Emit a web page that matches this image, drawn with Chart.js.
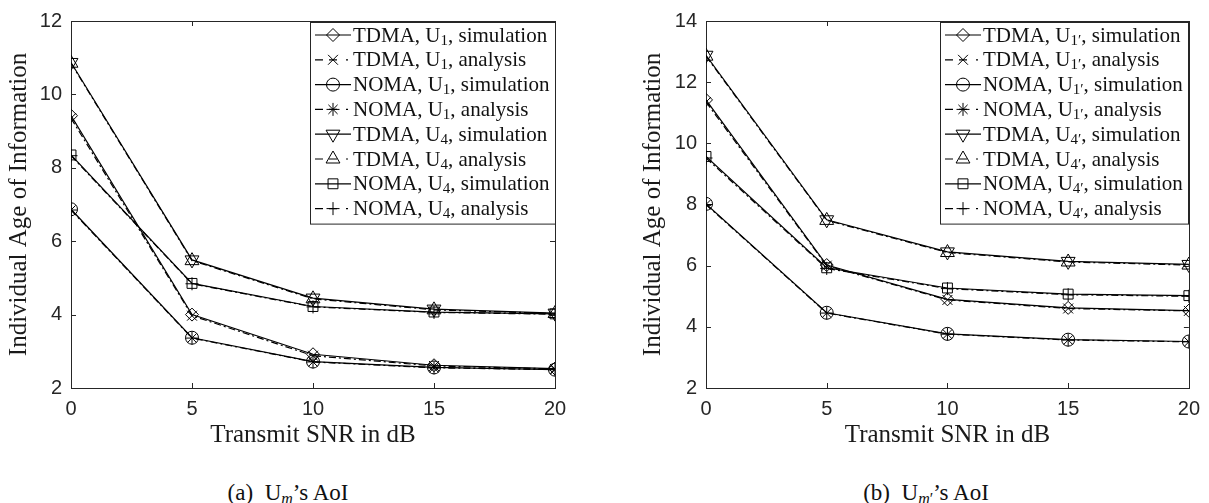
<!DOCTYPE html>
<html>
<head>
<meta charset="utf-8">
<script src="https://cdn.jsdelivr.net/npm/chart.js@4.4.1/dist/chart.umd.min.js"></script>
<style>
  body { margin: 0; background: #fff; width: 1209px; height: 503px; position: relative; overflow: hidden; }
  canvas { position: absolute; top: 0; }
  #chartA { left: 0; }
  #chartB { left: 604px; }
  .cap { position: absolute; top: 480px; font-family: "Liberation Serif", serif; font-size: 23px;
         color: #111; transform: translateX(-50%); white-space: nowrap; }
  .cap sub { font-size: 16px; vertical-align: -4px; line-height: 0; }
</style>
</head>
<body>
<canvas id="chartA" width="604" height="450"></canvas>
<canvas id="chartB" width="605" height="450"></canvas>
<div class="cap" style="left:288px">(a)&nbsp; U<sub><i>m</i></sub>’s AoI</div>
<div class="cap" style="left:926px">(b)&nbsp; U<sub><i>m</i>′</sub>’s AoI</div>
<script>
// x axis: transmit SNR (dB)
const snrDb = [0, 5, 10, 15, 20];
const xTickValues = [0, 5, 10, 15, 20];
const yTicksA = [2, 4, 6, 8, 10, 12];
const yTicksB = [2, 4, 6, 8, 10, 12, 14];

// (a) U_m's AoI
const tdmaU1Sim = [9.42, 4.00, 2.92, 2.62, 2.53];
const tdmaU1Ana = [9.35, 3.97, 2.88, 2.60, 2.52];
const nomaU1Sim = [6.87, 3.37, 2.72, 2.56, 2.50];
const nomaU1Ana = [6.85, 3.36, 2.71, 2.55, 2.50];
const tdmaU4Sim = [10.87, 5.49, 4.45, 4.15, 4.04];
const tdmaU4Ana = [10.85, 5.47, 4.43, 4.13, 4.03];
const nomaU4Sim = [8.35, 4.85, 4.22, 4.07, 4.02];
const nomaU4Ana = [8.33, 4.84, 4.21, 4.06, 4.01];

// (b) U_m''s AoI
const tdmaU1pSim = [11.42, 6.02, 4.90, 4.62, 4.53];
const tdmaU1pAna = [11.35, 6.00, 4.88, 4.60, 4.52];
const nomaU1pSim = [8.02, 4.46, 3.77, 3.58, 3.52];
const nomaU1pAna = [8.00, 4.45, 3.76, 3.57, 3.51];
const tdmaU4pSim = [12.88, 7.50, 6.45, 6.14, 6.04];
const tdmaU4pAna = [12.85, 7.48, 6.43, 6.12, 6.02];
const nomaU4pSim = [9.57, 5.93, 5.27, 5.07, 5.02];
const nomaU4pAna = [9.52, 5.91, 5.25, 5.05, 5.00];

const labelsA = [
  'TDMA, U_{1}, simulation', 'TDMA, U_{1}, analysis',
  'NOMA, U_{1}, simulation', 'NOMA, U_{1}, analysis',
  'TDMA, U_{4}, simulation', 'TDMA, U_{4}, analysis',
  'NOMA, U_{4}, simulation', 'NOMA, U_{4}, analysis'
];
const labelsB = [
  'TDMA, U_{1′}, simulation', 'TDMA, U_{1′}, analysis',
  'NOMA, U_{1′}, simulation', 'NOMA, U_{1′}, analysis',
  'TDMA, U_{4′}, simulation', 'TDMA, U_{4′}, analysis',
  'NOMA, U_{4′}, simulation', 'NOMA, U_{4′}, analysis'
];

// marker per series, same order in both panels
const markers = [
  { pointStyle: 'rectRot', radius: 6.5, rotation: 0, analysis: false },
  { pointStyle: 'crossRot', radius: 7, rotation: 0, analysis: true },
  { pointStyle: 'circle', radius: 6.5, rotation: 0, analysis: false },
  { pointStyle: 'star', radius: 6.5, rotation: 0, analysis: true },
  { pointStyle: 'triangle', radius: 8, rotation: 180, analysis: false },
  { pointStyle: 'triangle', radius: 8, rotation: 0, analysis: true },
  { pointStyle: 'rect', radius: 7, rotation: 0, analysis: false },
  { pointStyle: 'cross', radius: 6.5, rotation: 0, analysis: true }
];

const AXIS = '#262626';
const SERIF = '"Liberation Serif", "Times New Roman", serif';

function buildDatasets(labels, series) {
  return series.map((vals, i) => {
    const m = markers[i];
    return {
      label: labels[i],
      data: vals.map((v, k) => ({ x: snrDb[k], y: v })),
      borderColor: '#000',
      borderWidth: 1.2,
      borderDash: m.analysis ? [7, 3, 2, 3] : [],
      pointStyle: m.pointStyle,
      pointRadius: m.radius,
      pointHoverRadius: m.radius,
      pointRotation: m.rotation,
      pointBorderColor: '#000',
      pointBackgroundColor: 'rgba(0,0,0,0)',
      pointBorderWidth: 1,
      tension: 0,
      fill: false
    };
  });
}

// draw text with _{...} parts as subscripts, returns end x
function richText(ctx, label, x, y, size, draw) {
  const parts = label.split(/_\{([^}]*)\}/);
  parts.forEach((p, i) => {
    const sub = i % 2 === 1;
    ctx.font = (sub ? Math.round(size * 0.7) : size) + 'px ' + SERIF;
    if (draw) ctx.fillText(p, x, y + (sub ? size * 0.22 : 0));
    x += ctx.measureText(p).width;
  });
  return x;
}

function marker(ctx, m, x, y) {
  ctx.save();
  ctx.strokeStyle = '#000';
  ctx.fillStyle = 'rgba(0,0,0,0)';
  ctx.lineWidth = 1;
  ctx.setLineDash([]);
  Chart.helpers.drawPoint(ctx, { pointStyle: m.pointStyle, rotation: m.rotation, radius: m.radius, borderWidth: 1 }, x, y);
  ctx.restore();
}

// MATLAB style box with inward ticks
const boxPlugin = {
  id: 'matlabBox',
  beforeDatasetsDraw(chart) {
    const { ctx, chartArea: a, scales } = chart;
    ctx.save();
    ctx.strokeStyle = AXIS;
    ctx.lineWidth = 1;
    ctx.strokeRect(Math.round(a.left) + 0.5, Math.round(a.top) + 0.5,
      Math.round(a.right - a.left), Math.round(a.bottom - a.top));
    ctx.beginPath();
    scales.x.ticks.forEach(t => {
      const px = Math.round(scales.x.getPixelForValue(t.value)) + 0.5;
      ctx.moveTo(px, a.bottom); ctx.lineTo(px, a.bottom - 5);
      ctx.moveTo(px, a.top); ctx.lineTo(px, a.top + 5);
    });
    scales.y.ticks.forEach(t => {
      const py = Math.round(scales.y.getPixelForValue(t.value)) + 0.5;
      ctx.moveTo(a.left, py); ctx.lineTo(a.left + 5, py);
      ctx.moveTo(a.right, py); ctx.lineTo(a.right - 5, py);
    });
    ctx.stroke();
    ctx.restore();
  }
};

// legend box in the upper right corner with line sample + marker
const legendPlugin = {
  id: 'matlabLegend',
  afterDraw(chart) {
    const { ctx, chartArea: a } = chart;
    const sets = chart.data.datasets;
    const size = 21, rowH = 24.8, sample = 36;
    ctx.save();
    ctx.textBaseline = 'middle';
    let maxW = 0;
    sets.forEach(d => { maxW = Math.max(maxW, richText(ctx, d.label, 0, 0, size, false)); });
    const w = 5 + sample + 2 + maxW + 6;
    const h = 13 + 7 * rowH + 15;
    const left = Math.round(a.right - w), top = Math.round(a.top) + 1;
    ctx.fillStyle = '#fff';
    ctx.fillRect(left, top, w, h);
    ctx.strokeStyle = AXIS;
    ctx.lineWidth = 1;
    ctx.strokeRect(left + 0.5, top + 0.5, Math.round(w) - 1, h);
    sets.forEach((d, i) => {
      const y = top + 13 + i * rowH;
      const x0 = left + 5, xm = x0 + sample / 2;
      const m = markers[i];
      ctx.strokeStyle = '#000';
      ctx.lineWidth = 1.2;
      ctx.beginPath();
      if (m.analysis) {
        ctx.moveTo(x0, y); ctx.lineTo(x0 + 8, y);
        ctx.moveTo(xm - 4, y); ctx.lineTo(xm + 4, y);
        ctx.moveTo(x0 + sample - 5, y); ctx.lineTo(x0 + sample - 3, y);
      } else {
        ctx.moveTo(x0, y); ctx.lineTo(x0 + sample, y);
      }
      ctx.stroke();
      marker(ctx, m, xm, y);
      ctx.fillStyle = '#111';
      richText(ctx, d.label, x0 + sample + 2, y + 1, size, true);
    });
    ctx.restore();
  }
};

function makeChart(id, labels, series, yTicks, padding, yWidth) {
  return new Chart(document.getElementById(id), {
    type: 'line',
    data: { datasets: buildDatasets(labels, series) },
    options: {
      responsive: false,
      animation: false,
      events: [],
      layout: { padding: padding },
      plugins: { legend: { display: false }, tooltip: { enabled: false } },
      scales: {
        x: {
          type: 'linear',
          min: 0, max: 20,
          afterBuildTicks: s => { s.ticks = xTickValues.map(v => ({ value: v })); },
          afterFit: s => { s.height = 62; },
          grid: { display: false, drawTicks: false },
          border: { display: false },
          ticks: { padding: 9, color: AXIS, font: { family: '"Liberation Sans", Arial, sans-serif', size: 20 } },
          title: { display: true, text: 'Transmit SNR in dB', color: '#1a1a1a', padding: 0,
                   font: { family: SERIF, size: 25 } }
        },
        y: {
          min: yTicks[0], max: yTicks[yTicks.length - 1],
          afterBuildTicks: s => { s.ticks = yTicks.map(v => ({ value: v })); },
          afterFit: s => { s.width = yWidth; },
          grid: { display: false, drawTicks: false },
          border: { display: false },
          ticks: { padding: 9, color: AXIS, font: { family: '"Liberation Sans", Arial, sans-serif', size: 20 } },
          title: { display: true, text: 'Individual Age of Information', color: '#1a1a1a',
                   padding: { top: 4, bottom: 0 }, font: { family: SERIF, size: 25 } }
        }
      }
    },
    plugins: [boxPlugin, legendPlugin]
  });
}

makeChart('chartA', labelsA,
  [tdmaU1Sim, tdmaU1Ana, nomaU1Sim, nomaU1Ana, tdmaU4Sim, tdmaU4Ana, nomaU4Sim, nomaU4Ana],
  yTicksA, { top: 16, right: 49, left: 0, bottom: 0 }, 71);

makeChart('chartB', labelsB,
  [tdmaU1pSim, tdmaU1pAna, nomaU1pSim, nomaU1pAna, tdmaU4pSim, tdmaU4pAna, nomaU4pSim, nomaU4pAna],
  yTicksB, { top: 17, right: 15, left: 30, bottom: 0 }, 72);
</script>
</body>
</html>
